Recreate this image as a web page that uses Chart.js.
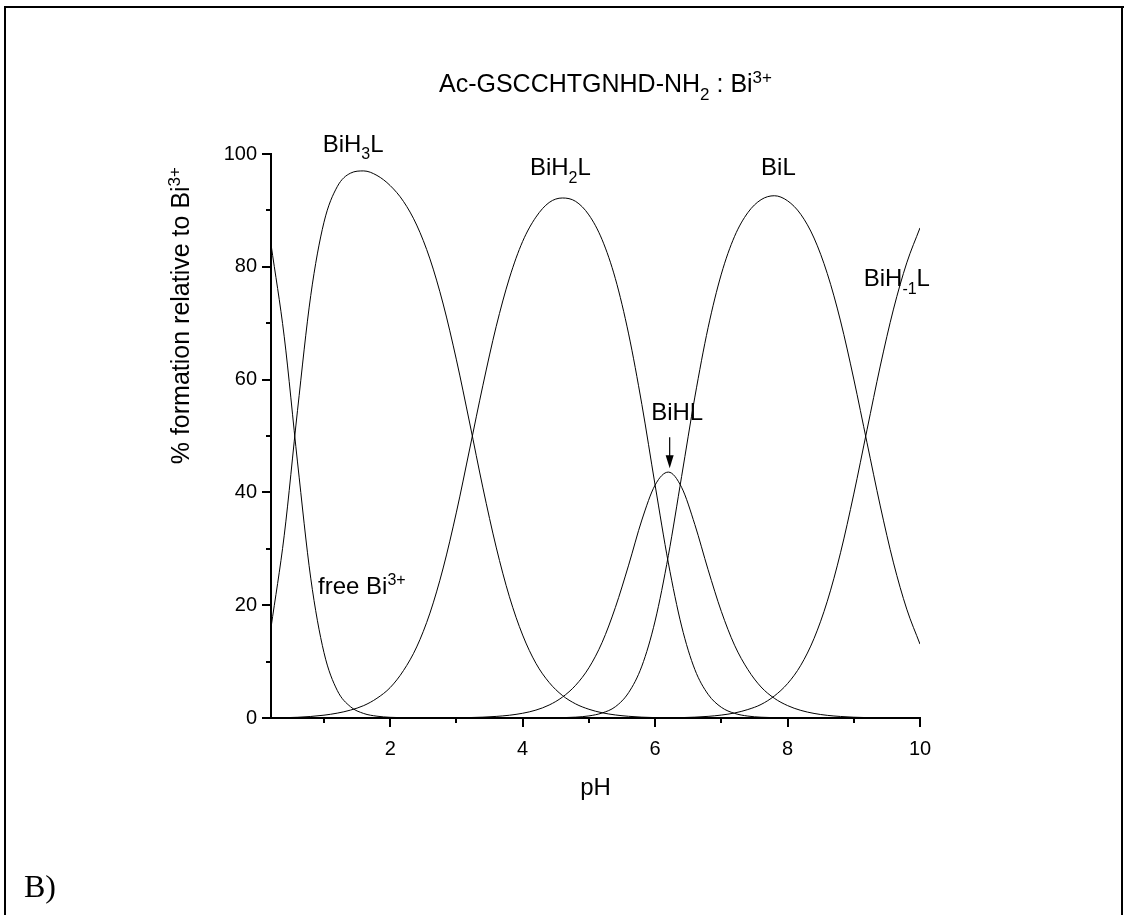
<!DOCTYPE html>
<html>
<head>
<meta charset="utf-8">
<title>Ac-GSCCHTGNHD-NH2 : Bi3+ species distribution</title>
<script src="https://cdn.jsdelivr.net/npm/chart.js@4.4.0/dist/chart.umd.min.js"></script>
<style>
    html, body { margin: 0; padding: 0; background: #fff; }
    #wrap { position: relative; width: 1129px; height: 915px; }
</style>
</head>
<body>
<div id="wrap"><canvas id="speciesChart" width="1129" height="915"></canvas></div>
<script>
// pH grid the curves were read on
const phValues = [
    0.2, 0.4, 0.6, 0.8, 1.0, 1.2, 1.4, 1.6, 1.8, 2.0,
    2.2, 2.4, 2.6, 2.8, 3.0, 3.2, 3.4, 3.6, 3.8, 4.0,
    4.2, 4.4, 4.6, 4.8, 5.0, 5.2, 5.4, 5.6, 5.8, 6.0,
    6.2, 6.4, 6.6, 6.8, 7.0, 7.2, 7.4, 7.6, 7.8, 8.0,
    8.2, 8.4, 8.6, 8.8, 9.0, 9.2, 9.4, 9.6, 9.8, 10.0
];

// % formation relative to Bi3+
const freeBi = [
    84.0, 67.6, 45.4, 24.8, 11.6, 4.9, 2.0, 0.8, 0.32, 0.12,
    0.05, 0.02, 0, 0, 0, 0, 0, 0, 0, 0,
    0, 0, 0, 0, 0, 0, 0, 0, 0, 0,
    0, 0, 0, 0, 0, 0, 0, 0, 0, 0,
    0, 0, 0, 0, 0, 0, 0, 0, 0, 0
];
const biH3L = [
    16.0, 32.4, 54.5, 74.9, 87.9, 94.2, 96.6, 97.0, 96.2, 94.4,
    91.6, 87.4, 81.4, 73.4, 63.5, 52.3, 40.8, 30.3, 21.5, 14.7,
    9.7, 6.3, 4.0, 2.5, 1.55, 0.93, 0.54, 0.3, 0.15, 0.07,
    0.03, 0, 0, 0, 0, 0, 0, 0, 0, 0,
    0, 0, 0, 0, 0, 0, 0, 0, 0, 0
];
const biH2L = [
    0.01, 0.05, 0.13, 0.27, 0.5, 0.86, 1.4, 2.2, 3.5, 5.4,
    8.4, 12.6, 18.6, 26.6, 36.5, 47.7, 59.0, 69.4, 78.0, 84.5,
    88.8, 91.4, 92.2, 91.6, 89.2, 84.8, 77.9, 68.1, 55.6, 41.3,
    27.5, 16.3, 8.6, 4.2, 1.9, 0.82, 0.34, 0.14, 0.06, 0.02,
    0, 0, 0, 0, 0, 0, 0, 0, 0, 0
];
const biHL = [
    0, 0, 0, 0, 0, 0, 0, 0, 0, 0,
    0, 0, 0, 0, 0.04, 0.08, 0.15, 0.28, 0.49, 0.84,
    1.4, 2.3, 3.7, 5.8, 8.9, 13.4, 19.6, 27.1, 35.1, 41.3,
    43.6, 40.9, 34.3, 26.3, 18.9, 12.9, 8.6, 5.5, 3.5, 2.2,
    1.35, 0.81, 0.47, 0.27, 0.14, 0.07, 0.03, 0.02, 0.01, 0
];
const biL = [
    0, 0, 0, 0, 0, 0, 0, 0, 0, 0,
    0, 0, 0, 0, 0, 0, 0, 0, 0, 0,
    0.01, 0.02, 0.06, 0.15, 0.37, 0.89, 2.0, 4.5, 9.2, 17.2,
    28.8, 42.8, 56.9, 69.2, 78.7, 85.4, 89.6, 91.9, 92.6, 91.7,
    89.3, 85.1, 78.8, 70.4, 60.1, 48.8, 37.6, 27.5, 19.3, 13.1
];
const biHm1L = [
    0, 0, 0, 0, 0, 0, 0, 0, 0, 0,
    0, 0, 0, 0, 0, 0, 0, 0, 0, 0,
    0, 0, 0, 0, 0, 0, 0, 0, 0, 0.01,
    0.03, 0.07, 0.15, 0.29, 0.52, 0.89, 1.5, 2.4, 3.9, 6.1,
    9.35, 14.1, 20.7, 29.3, 39.7, 51.1, 62.4, 72.5, 80.7, 86.9
];

// axis ticks (odd pH and odd tens are unlabelled minor ticks)
const xTickValues = [1, 2, 3, 4, 5, 6, 7, 8, 9, 10];
const xTickLabels = ['', '2', '', '4', '', '6', '', '8', '', '10'];
const yTickValues = [0, 10, 20, 30, 40, 50, 60, 70, 80, 90, 100];
const yTickLabels = ['0', '', '20', '', '40', '', '60', '', '80', '', '100'];

const SANS = '"Liberation Sans", Arial, Helvetica, sans-serif';

/**
 * Species labels, anchored in pH / % units (left edge, baseline)
 */
const speciesLabels = [
    { parts: [['BiH'], ['3', 'sub'], ['L']], ph: 0.98, value: 100.4 },
    { parts: [['BiH'], ['2', 'sub'], ['L']], ph: 4.11, value: 96.3 },
    { parts: [['BiL']], ph: 7.6, value: 96.3 },
    { parts: [['BiH'], ['-1', 'sub'], ['L']], ph: 9.15, value: 76.6 },
    { parts: [['BiHL']], ph: 5.94, value: 52.8 },
    { parts: [['free Bi'], ['3+', 'sup']], ph: 0.91, value: 22.0 }
];

/**
 * Draw text with sub/superscript runs, returns the advance width
 */
function drawRich(ctx, parts, x, y, size, measureOnly) {
    let cx = x;
    parts.forEach(([text, kind]) => {
        const fs = kind ? Math.round(size * 0.66) : size;
        ctx.font = fs + 'px ' + SANS;
        const dy = kind === 'sub' ? size * 0.32 : kind === 'sup' ? -size * 0.36 : 0;
        if (!measureOnly) ctx.fillText(text, cx, y + dy);
        cx += ctx.measureText(text).width;
    });
    return cx - x;
}

// page frame + "B)" panel marker
const framePlugin = {
    id: 'frame',
    beforeDraw(chart) {
        const ctx = chart.ctx;
        ctx.save();
        ctx.fillStyle = '#fff';
        ctx.fillRect(0, 0, chart.width, chart.height);
        ctx.strokeStyle = '#000';
        ctx.lineWidth = 2;
        ctx.beginPath();
        ctx.moveTo(4, 7); ctx.lineTo(1124, 7);
        ctx.moveTo(5, 6); ctx.lineTo(5, 915);
        ctx.moveTo(1122, 6); ctx.lineTo(1122, 915);
        ctx.stroke();
        ctx.fillStyle = '#000';
        ctx.font = '32px "Liberation Serif", "Times New Roman", serif';
        ctx.textBaseline = 'alphabetic';
        ctx.fillText('B)', 24, 897);
        ctx.restore();
    }
};

// outward major / minor tick marks
const tickPlugin = {
    id: 'outerTicks',
    afterDraw(chart) {
        const { ctx, chartArea, scales } = chart;
        ctx.save();
        ctx.strokeStyle = '#000';
        ctx.lineWidth = 2;
        ctx.beginPath();
        xTickValues.forEach((v, i) => {
            const px = Math.round(scales.x.getPixelForValue(v));
            const len = xTickLabels[i] ? 9 : 5;
            ctx.moveTo(px, chartArea.bottom);
            ctx.lineTo(px, chartArea.bottom + len);
        });
        yTickValues.forEach((v, i) => {
            const py = Math.round(scales.y.getPixelForValue(v));
            const len = yTickLabels[i] ? 9 : 5;
            ctx.moveTo(chartArea.left, py);
            ctx.lineTo(chartArea.left - len, py);
        });
        ctx.stroke();
        ctx.restore();
    }
};

// title, axis titles, species labels, arrow
const textPlugin = {
    id: 'richText',
    afterDraw(chart) {
        const { ctx, chartArea, scales } = chart;
        ctx.save();
        ctx.fillStyle = '#000';
        ctx.textBaseline = 'alphabetic';

        const titleParts = [['Ac-GSCCHTGNHD-NH'], ['2', 'sub'], [' : Bi'], ['3+', 'sup']];
        const tw = drawRich(ctx, titleParts, 0, 0, 25, true);
        drawRich(ctx, titleParts, 772 - tw, 92, 25);

        speciesLabels.forEach(lbl => {
            drawRich(ctx, lbl.parts, scales.x.getPixelForValue(lbl.ph), scales.y.getPixelForValue(lbl.value), 24);
        });

        // pH axis title
        const pw = drawRich(ctx, [['pH']], 0, 0, 24, true);
        drawRich(ctx, [['pH']], (chartArea.left + chartArea.right) / 2 - pw / 2, 795, 24);

        // y axis title, rotated
        const yParts = [['% formation relative to Bi'], ['3+', 'sup']];
        const yw = drawRich(ctx, yParts, 0, 0, 25, true);
        ctx.save();
        ctx.translate(189, 167 + yw);
        ctx.rotate(-Math.PI / 2);
        drawRich(ctx, yParts, 0, 0, 25);
        ctx.restore();

        // arrow pointing at the BiHL maximum
        const ax = scales.x.getPixelForValue(6.22);
        const ay0 = scales.y.getPixelForValue(49.8);
        const ay1 = scales.y.getPixelForValue(44.3);
        ctx.strokeStyle = '#000';
        ctx.lineWidth = 1.2;
        ctx.beginPath();
        ctx.moveTo(ax, ay0);
        ctx.lineTo(ax, ay1 - 10);
        ctx.stroke();
        ctx.beginPath();
        ctx.moveTo(ax, ay1);
        ctx.lineTo(ax - 4, ay1 - 13);
        ctx.lineTo(ax + 4, ay1 - 13);
        ctx.closePath();
        ctx.fill();
        ctx.restore();
    }
};

const series = [
    { name: 'free Bi3+', values: freeBi },
    { name: 'BiH3L', values: biH3L },
    { name: 'BiH2L', values: biH2L },
    { name: 'BiHL', values: biHL },
    { name: 'BiL', values: biL },
    { name: 'BiH-1L', values: biHm1L }
];

const tickFont = { family: SANS, size: 20 };

new Chart(document.getElementById('speciesChart').getContext('2d'), {
    type: 'line',
    data: {
        datasets: series.map(s => ({
            label: s.name,
            data: phValues.map((ph, i) => ({ x: ph, y: s.values[i] })),
            borderColor: '#000',
            borderWidth: 1,
            pointRadius: 0,
            fill: false,
            cubicInterpolationMode: 'monotone'
        }))
    },
    options: {
        responsive: false,
        animation: false,
        layout: { padding: { left: 171, top: 154, right: 209, bottom: 97 } },
        plugins: {
            legend: { display: false },
            tooltip: { enabled: false },
            title: { display: false }
        },
        scales: {
            x: {
                type: 'linear',
                min: 0.2,
                max: 10,
                afterBuildTicks: scale => { scale.ticks = xTickValues.map(v => ({ value: v })); },
                afterFit: scale => { scale.height = 100; },
                grid: { display: false, drawTicks: false },
                border: { display: true, color: '#000', width: 2 },
                ticks: {
                    autoSkip: false,
                    maxRotation: 0,
                    padding: 19,
                    color: '#000',
                    font: tickFont,
                    callback: (value, index) => xTickLabels[index]
                }
            },
            y: {
                type: 'linear',
                min: 0,
                max: 100,
                afterBuildTicks: scale => { scale.ticks = yTickValues.map(v => ({ value: v })); },
                afterFit: scale => { scale.width = 100; },
                grid: { display: false, drawTicks: false },
                border: { display: true, color: '#000', width: 2 },
                ticks: {
                    autoSkip: false,
                    padding: 14,
                    color: '#000',
                    font: tickFont,
                    callback: (value, index) => yTickLabels[index]
                }
            }
        }
    },
    plugins: [framePlugin, tickPlugin, textPlugin]
});
</script>
</body>
</html>
